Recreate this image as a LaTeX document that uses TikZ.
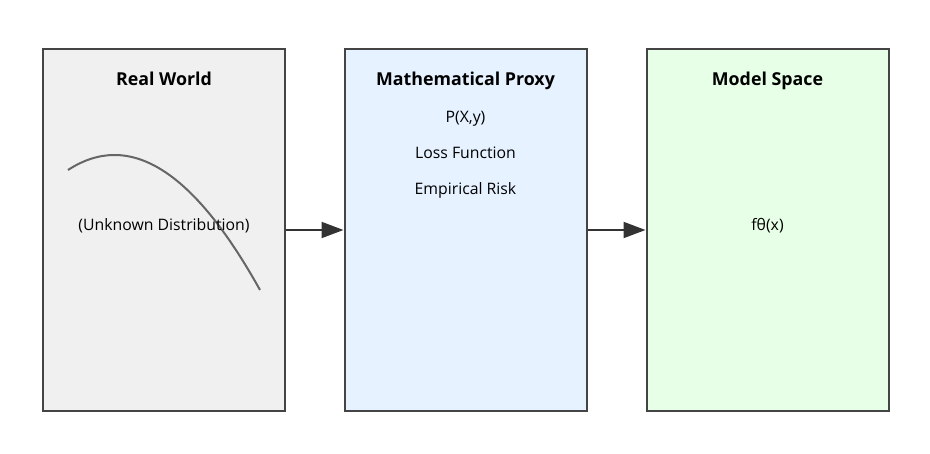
\documentclass[tikz,border=0pt]{standalone}
\usepackage{fontspec}
\setmainfont{Open Sans}
\usetikzlibrary{arrows.meta}
\definecolor{strokec}{HTML}{444444}
\definecolor{arrowc}{HTML}{333333}
\definecolor{fillA}{HTML}{F0F0F0}
\definecolor{fillB}{HTML}{E6F2FF}
\definecolor{fillC}{HTML}{E6FFE6}
\definecolor{curvec}{HTML}{666666}
\tikzset{
  panel/.style={draw=strokec, line width=2pt, minimum width=242pt, minimum height=362pt, inner sep=0pt},
  heading/.style={font=\fontsize{17.8}{21}\selectfont\bfseries, text=black, inner sep=0pt, anchor=base},
  body/.style={font=\fontsize{15.8}{19}\selectfont, text=black, inner sep=0pt, anchor=base},
  flow/.style={draw=arrowc, line width=2pt, -{Triangle[length=22pt,width=16pt]}}
}
\begin{document}
\begin{tikzpicture}[x=1pt,y=-1pt]
\useasboundingbox (0,0) rectangle (930,454);
\node[panel, fill=fillA] (rw) at (164,230) {};
\node[panel, fill=fillB] (mp) at (465.5,230) {};
\node[panel, fill=fillC] (ms) at (767.5,230) {};
\node[heading] (rwt) at (164,85.5) {Real World};
\node[heading] (mpt) at (465.5,85.5) {Mathematical Proxy};
\node[heading] (mst) at (767.5,85.5) {Model Space};
\coordinate (cs) at (68,170);
\coordinate (ce) at (260,290);
\draw[curvec, line width=2pt] (cs) .. controls (129.3,130) and (193.3,170) .. (ce);
\node[body] (ud) at (164,230.5) {(Unknown Distribution)};
\node[body] (pxy) at (465.5,122.5) {P(X,y)};
\node[body] (lf) at (465.5,158.5) {Loss Function};
\node[body] (er) at (465.5,194.5) {Empirical Risk};
\node[body] (ft) at (767.5,230.5) {fθ(x)};
\draw[flow] (rw.east) -- (mp.west);
\draw[flow] (mp.east) -- (ms.west);
\end{tikzpicture}
\end{document}
